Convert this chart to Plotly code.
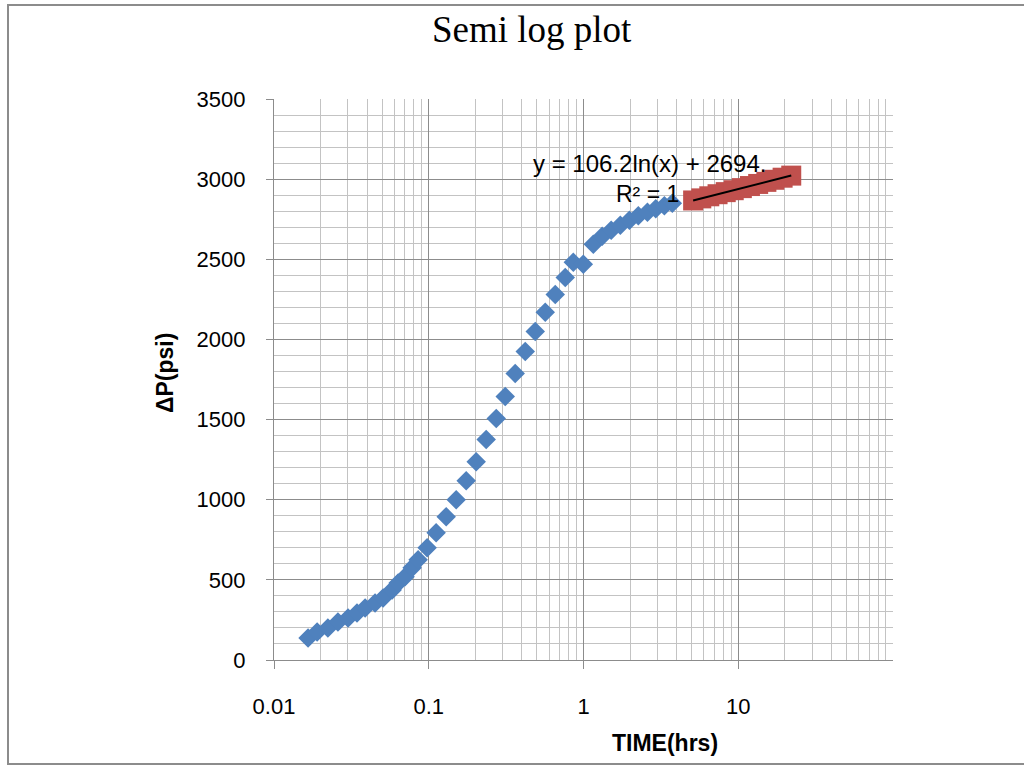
import numpy as np
import plotly.graph_objects as go

# ---- data ----
blue_time = [0.0166, 0.0190, 0.0223, 0.0259, 0.0301, 0.0344, 0.0388, 0.0450, 0.0507, 0.0580,
             0.0634, 0.0703, 0.0781, 0.0854, 0.0976, 0.1116, 0.1296, 0.1504, 0.1746, 0.2026,
             0.2350, 0.2730, 0.3120, 0.3620, 0.4203, 0.4878, 0.5660, 0.6570, 0.7625, 0.8590,
             0.9970, 1.157, 1.32, 1.51, 1.73, 1.98, 2.26, 2.59, 2.93, 3.33, 3.75]
blue_dp = [137, 175, 200, 237, 262, 294, 325, 356, 387, 437,
           481, 519, 575, 625, 700, 794, 894, 1000, 1119, 1237,
           1375, 1506, 1644, 1787, 1925, 2050, 2169, 2281, 2387, 2481,
           2469, 2594, 2644, 2681, 2712, 2744, 2772, 2794, 2816, 2834, 2850]

red_time = [5.11, 5.77, 6.5, 7.35, 8.3, 9.35, 10.55, 11.9, 13.45, 15.2, 17.1, 19.35, 22.0]
red_dp = [2867, 2880, 2893, 2906, 2919, 2931, 2944, 2957, 2970, 2983, 2996, 3009, 3022]

fit_slope = 106.2
fit_intercept = 2694
fit_label = "y = 106.2ln(x) + 2694."
r2_label = "R² = 1"

x_tickvals = [0.01, 0.1, 1, 10]
x_ticktext = ["0.01", "0.1", "1", "10"]
x_minor = [m * 10.0 ** e for e in range(-2, 2) for m in range(2, 10)]

title_text = "Semi log plot"
x_title = "TIME(hrs)"
y_title = "ΔP(psi)"

# ---- layout geometry (pixels) ----
W, H = 1024, 766
L, R, T, B = 274, 131, 99, 106
PW, PH = W - L - R, H - T - B


def px_x(p):
    return (p - L) / PW


def px_y(p):
    return (H - B - p) / PH


SANS = "Liberation Sans, Arial, sans-serif"
MAJOR = "#8C8C8C"
MINOR = "#C3C3C3"

fig = go.Figure()

fig.add_trace(go.Scatter(
    x=blue_time, y=blue_dp, mode="markers",
    marker=dict(symbol="diamond", size=15, color="#4F81BD", line=dict(width=0)),
    showlegend=False, hoverinfo="skip"))

fig.add_trace(go.Scatter(
    x=red_time, y=red_dp, mode="markers",
    marker=dict(symbol="square", size=20, color="#C0504D", line=dict(width=0)),
    showlegend=False, hoverinfo="skip"))

trend_x = np.geomspace(min(red_time), max(red_time), 20)
trend_y = fit_slope * np.log(trend_x) + fit_intercept
fig.add_trace(go.Scatter(
    x=trend_x, y=trend_y, mode="lines",
    line=dict(color="black", width=2),
    showlegend=False, hoverinfo="skip"))

fig.update_xaxes(
    type="log", range=[-2, 2],
    tickmode="array", tickvals=x_tickvals, ticktext=x_ticktext,
    showgrid=True, gridcolor=MAJOR, gridwidth=1.3,
    showline=True, linecolor=MAJOR, linewidth=1.3,
    ticks="outside", ticklen=8, tickcolor=MAJOR, tickwidth=1.3,
    ticklabelstandoff=18,
    tickfont=dict(family=SANS, size=22, color="black"),
    minor=dict(tickmode="array", tickvals=x_minor, showgrid=True,
               gridcolor=MINOR, gridwidth=1.3, ticks=""),
    zeroline=False,
)
fig.update_yaxes(
    range=[0, 3500], dtick=500, tick0=0,
    showgrid=True, gridcolor=MAJOR, gridwidth=1.3,
    showline=True, linecolor=MAJOR, linewidth=1.3,
    ticks="outside", ticklen=7, tickcolor=MAJOR, tickwidth=1.3,
    ticklabelstandoff=16,
    tickfont=dict(family=SANS, size=22, color="black"),
    minor=dict(dtick=100, showgrid=True, gridcolor=MINOR, gridwidth=1.3, ticks=""),
    zeroline=False,
)

annotations = [
    dict(text=title_text, x=px_x(532), y=px_y(30), xref="paper", yref="paper",
         xanchor="center", yanchor="middle", showarrow=False,
         font=dict(family="Liberation Serif, Times New Roman, serif", size=37, color="black")),
    dict(text=fit_label, x=px_x(768), y=px_y(163), xref="paper", yref="paper",
         xanchor="right", yanchor="middle", showarrow=False,
         font=dict(family=SANS, size=24, color="black")),
    dict(text=r2_label, x=px_x(681), y=px_y(194), xref="paper", yref="paper",
         xanchor="right", yanchor="middle", showarrow=False,
         font=dict(family=SANS, size=23, color="black")),
    dict(text="<b>" + x_title + "</b>", x=px_x(665), y=px_y(743), xref="paper", yref="paper",
         xanchor="center", yanchor="middle", showarrow=False,
         font=dict(family=SANS, size=23, color="black")),
    dict(text="<b>" + y_title + "</b>", x=px_x(165), y=px_y(373), xref="paper", yref="paper",
         xanchor="center", yanchor="middle", showarrow=False, textangle=-90,
         font=dict(family=SANS, size=23, color="black")),
]

shapes = [
    dict(type="rect", xref="paper", yref="paper",
         x0=px_x(8), x1=px_x(1030), y0=px_y(764), y1=px_y(5),
         line=dict(color="#8C8C8C", width=2), fillcolor="rgba(0,0,0,0)", layer="below"),
]

fig.update_layout(
    width=W, height=H,
    margin=dict(l=L, r=R, t=T, b=B, pad=0),
    paper_bgcolor="white", plot_bgcolor="white",
    annotations=annotations, shapes=shapes,
    showlegend=False,
)

fig.write_html("out.html")
